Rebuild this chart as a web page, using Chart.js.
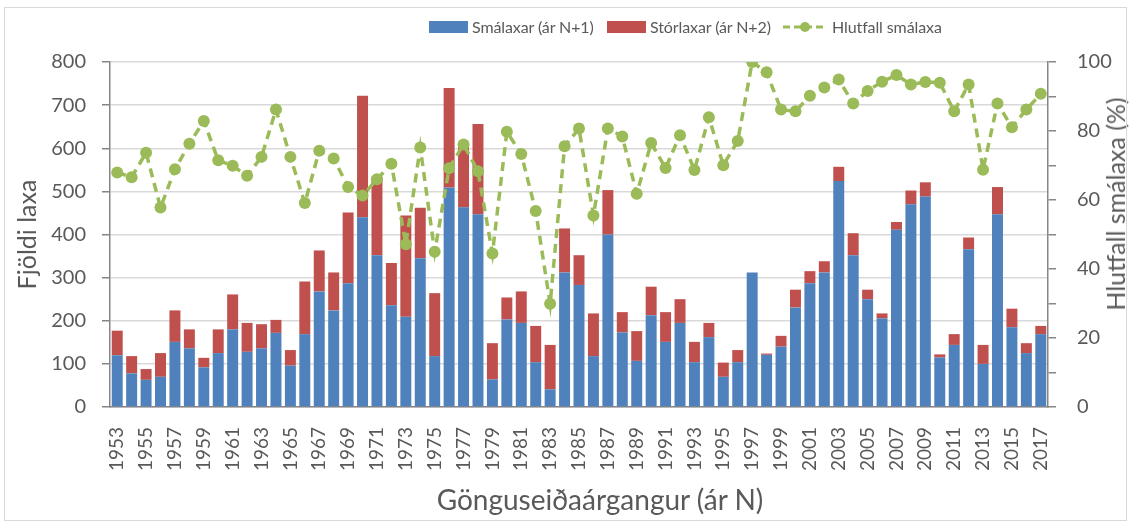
<!DOCTYPE html>
<html lang="is">
<head>
    <meta charset="UTF-8">
    <title>Smálaxar og stórlaxar eftir gönguseiðaárgangi</title>
    <script src="https://cdn.jsdelivr.net/npm/chart.js"></script>
    <style>
        html, body {
            margin: 0;
            padding: 0;
            background: #fff;
        }

        .wrap {
            position: relative;
            width: 1130px;
            height: 521px;
            font-family: Lato, "Open Sans", sans-serif;
            color: #595959;
        }

        .frame {
            position: absolute;
            left: 4px;
            top: 7px;
            width: 1121px;
            height: 512px;
            border: 1px solid #d9d9d9;
            pointer-events: none;
        }

        .legend-item {
            position: absolute;
            top: 17px;
            display: flex;
            align-items: center;
            font-size: 16px;
            letter-spacing: -0.1px;
            white-space: nowrap;
        }

        .swatch {
            width: 39px;
            height: 12px;
            margin-right: 4px;
        }

        .right-title {
            position: absolute;
            left: 1115px;
            top: 204px;
            transform: translate(-50%, -50%) rotate(-90deg);
            font-size: 25px;
            white-space: nowrap;
        }

        .x-title {
            position: absolute;
            left: 600px;
            top: 499px;
            transform: translate(-50%, -50%);
            font-size: 28px;
            white-space: nowrap;
        }
    </style>
</head>
<body>
    <div class="wrap">
        <canvas id="laxChart" width="1130" height="521"></canvas>

        <div class="legend-item" style="left: 429px;">
            <div class="swatch" style="background: #4f81bd;"></div>Smálaxar (ár N+1)
        </div>
        <div class="legend-item" style="left: 607px;">
            <div class="swatch" style="background: #c0504d;"></div>Stórlaxar (ár N+2)
        </div>
        <div class="legend-item" style="left: 782px;">
            <svg width="46" height="14" style="margin-right: 4px;">
                <line x1="1" y1="7" x2="45" y2="7" stroke="#9bbb59" stroke-width="3" stroke-dasharray="7 4"></line>
                <circle cx="23" cy="7" r="5" fill="#9bbb59"></circle>
            </svg>Hlutfall smálaxa
        </div>

        <div class="right-title">Hlutfall smálaxa (%)</div>
        <div class="x-title">Gönguseiðaárgangur (ár N)</div>
        <div class="frame"></div>
    </div>

    <script>
        // Gönguseiðaárgangur 1953-2017
        const years = [];
        for (let y = 1953; y <= 2017; y++) years.push(String(y));

        // Smálaxar (ár N+1)
        const smalaxar = [
            120, 78, 63, 70, 151, 136, 92, 125, 180, 128,
            136, 172, 96, 169, 268, 224, 287, 440, 352, 236,
            209, 345, 118, 509, 463, 447, 64, 203, 195, 104,
            41, 312, 283, 118, 400, 173, 107, 213, 151, 195,
            104, 162, 70, 104, 312, 121, 140, 231, 287, 312,
            524, 352, 250, 206, 411, 470, 488, 115, 144, 366,
            100, 447, 185, 125, 169
        ];

        // Stórlaxar (ár N+2)
        const storlaxar = [
            57, 40, 25, 55, 73, 44, 22, 55, 81, 67,
            56, 30, 36, 122, 95, 88, 164, 282, 182, 98,
            235, 117, 146, 231, 145, 209, 84, 51, 73, 84,
            103, 102, 69, 99, 103, 47, 69, 66, 69, 55,
            47, 33, 33, 28, 0, 3, 25, 41, 28, 26,
            33, 51, 22, 11, 18, 32, 33, 7, 25, 27,
            44, 63, 43, 23, 19
        ];

        // Hlutfall smálaxa (%)
        const hlutfall = [
            68, 66.6, 73.7, 57.8, 68.9, 76.3, 82.9, 71.5, 69.9, 67,
            72.5, 86.2, 72.5, 59.1, 74.3, 72, 63.8, 61.3, 66, 70.5,
            47.2, 75.2, 45, 69.2, 76.1, 68.3, 44.5, 79.8, 73.3, 56.8,
            29.9, 75.6, 80.7, 55.5, 80.7, 78.4, 61.8, 76.5, 69.3, 78.8,
            68.7, 84, 70.1, 77.1, 100, 97, 86.2, 85.7, 90.2, 92.6,
            94.9, 88, 91.6, 94.3, 96.2, 93.5, 94.2, 94, 85.7, 93.5,
            68.8, 88, 81.1, 86.2, 90.8
        ];

        const textColor = '#595959';
        const gridColor = '#d9d9d9';
        const axisColor = '#868686';
        const fontFamily = 'Lato, "Open Sans", sans-serif';

        const ctx = document.getElementById('laxChart').getContext('2d');

        new Chart(ctx, {
            type: 'bar',
            data: {
                labels: years,
                datasets: [
                    {
                        type: 'line',
                        label: 'Hlutfall smálaxa',
                        data: hlutfall,
                        yAxisID: 'y1',
                        borderColor: '#9bbb59',
                        backgroundColor: '#9bbb59',
                        borderWidth: 3.5,
                        borderDash: [9, 6],
                        pointRadius: 6,
                        pointBackgroundColor: '#9bbb59',
                        pointBorderWidth: 0,
                        tension: 0,
                        order: 0
                    },
                    {
                        label: 'Smálaxar (ár N+1)',
                        data: smalaxar,
                        yAxisID: 'y',
                        backgroundColor: '#4f81bd',
                        barPercentage: 0.76,
                        categoryPercentage: 1,
                        order: 1
                    },
                    {
                        label: 'Stórlaxar (ár N+2)',
                        data: storlaxar,
                        yAxisID: 'y',
                        backgroundColor: '#c0504d',
                        barPercentage: 0.76,
                        categoryPercentage: 1,
                        order: 2
                    }
                ]
            },
            options: {
                responsive: false,
                animation: false,
                layout: {
                    padding: { top: 62, left: 0, right: 0, bottom: 0 }
                },
                plugins: {
                    legend: { display: false },
                    tooltip: { enabled: false }
                },
                scales: {
                    x: {
                        stacked: true,
                        grid: { drawOnChartArea: false, drawTicks: false },
                        border: { display: true, color: axisColor, width: 1.5 },
                        ticks: {
                            autoSkip: false,
                            minRotation: 90,
                            maxRotation: 90,
                            padding: 20,
                            color: textColor,
                            font: { family: fontFamily, size: 19 },
                            callback: function (val, i) {
                                return i % 2 === 0 ? this.getLabelForValue(val) : '';
                            }
                        },
                        afterFit: (scale) => { scale.height = 114; }
                    },
                    y: {
                        stacked: true,
                        position: 'left',
                        min: 0,
                        max: 800,
                        ticks: {
                            stepSize: 50,
                            padding: 16,
                            color: textColor,
                            font: { family: fontFamily, size: 20 },
                            callback: (v) => (v % 100 === 0 ? v : '')
                        },
                        grid: {
                            color: (c) => (c.tick && c.tick.value % 100 === 0 ? gridColor : 'rgba(0,0,0,0)'),
                            tickColor: axisColor,
                            lineWidth: 1.5,
                            tickLength: 8
                        },
                        border: { color: axisColor, width: 1.5 },
                        title: {
                            display: true,
                            text: 'Fjöldi laxa',
                            color: textColor,
                            font: { family: fontFamily, size: 25 },
                            padding: { top: 13, bottom: 0 }
                        },
                        afterFit: (scale) => { scale.width = 110; }
                    },
                    y1: {
                        position: 'right',
                        min: 0,
                        max: 100,
                        ticks: {
                            stepSize: 10,
                            padding: 21,
                            color: textColor,
                            font: { family: fontFamily, size: 20 },
                            callback: (v) => (v % 20 === 0 ? v : '')
                        },
                        grid: {
                            drawOnChartArea: false,
                            color: axisColor,
                            lineWidth: 1.5,
                            tickLength: 8
                        },
                        border: { color: axisColor, width: 1.5 },
                        afterFit: (scale) => { scale.width = 82; }
                    }
                }
            }
        });
    </script>
</body>
</html>
